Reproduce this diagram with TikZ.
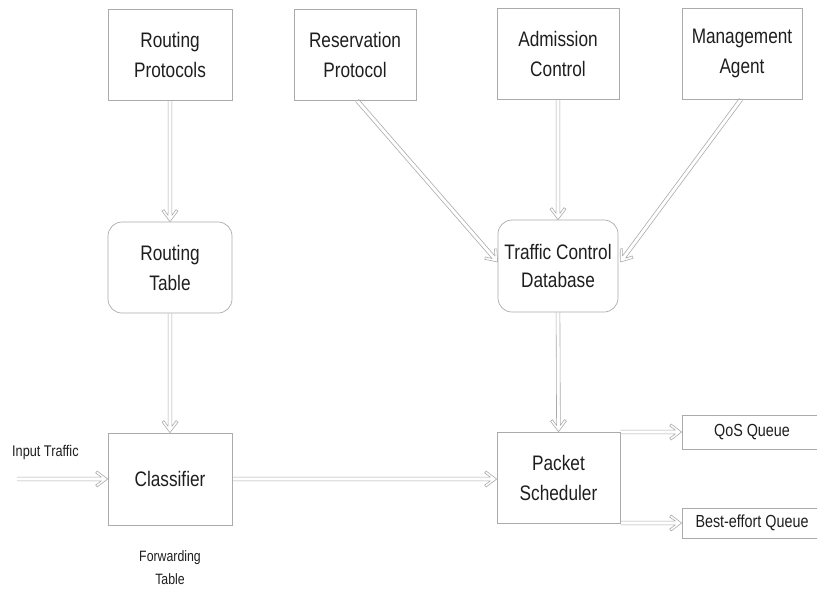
\documentclass[tikz,border=0pt]{standalone}
\usepackage{fontspec}
\setmainfont{Liberation Sans}[FakeStretch=0.82]
\usetikzlibrary{calc}

\definecolor{edge}{HTML}{ABABAB}
\definecolor{ink}{HTML}{1E1E1E}

\tikzset{
  box/.style={draw=edge, line width=0.7pt, inner sep=0pt, align=center,
    text=ink, font=\fontsize{21}{30}\selectfont},
  blockbox/.style={box},
  roundbox/.style={box, rounded corners=14pt},
  queuebox/.style={draw=edge, line width=0.7pt, inner sep=0pt, text=ink,
    font=\fontsize{17.5}{20}\selectfont},
  freelabel/.style={text=ink, font=\fontsize{15.5}{23}\selectfont,
    align=center, inner sep=0pt},
  arrowline/.style={draw=edge, line width=0.6pt, line join=round},
}

% Hollow double-line arrow (shaft of two lines, open chevron head)
\newcommand\hollowarrow[2]{%
  \path #1 coordinate (ha-a) #2 coordinate (ha-b);
  \pgfpointdiff{\pgfpointanchor{ha-a}{center}}{\pgfpointanchor{ha-b}{center}}%
  \pgfgetlastxy{\hadx}{\hady}%
  \pgfmathsetmacro\haAng{atan2(\hady,\hadx)}%
  \pgfmathsetmacro\haLen{veclen(\hadx,\hady)}%
  \begin{scope}[shift={(ha-a)}, rotate=\haAng, x=1pt, y=1pt]
    \draw[arrowline] (0,1.9) -- ({\haLen-6.2},1.9) -- ({\haLen-12},6)
      -- ({\haLen-10.5},8) -- (\haLen,0) -- ({\haLen-10.5},-8)
      -- ({\haLen-12},-6) -- ({\haLen-6.2},-1.9) -- (0,-1.9);
  \end{scope}}

\begin{document}
\begin{tikzpicture}[x=1pt, y=-1pt]
  \path[use as bounding box] (0,0) rectangle (817,590);
  \clip (0,0) rectangle (817,590);

  % top row
  \node[blockbox, minimum width=124pt, minimum height=91pt] (rp)   at (170,54.5) {Routing\\Protocols};
  \node[blockbox, minimum width=122pt, minimum height=91pt] (resp) at (355,54.5) {Reservation\\Protocol};
  \node[blockbox, minimum width=122pt, minimum height=91pt] (ac)   at (558,53.5) {Admission\\Control};
  \node[blockbox, minimum width=120pt, minimum height=91pt] (ma)   at (742,53.5) {Management\\Agent};

  % databases
  \node[roundbox, minimum width=124pt, minimum height=91pt] (rt)  at (170,267.5) {Routing\\Table};
  \node[roundbox, minimum width=120pt, minimum height=92pt, font=\fontsize{21}{28}\selectfont] (tcd) at (558,266) {Traffic Control\\Database};

  % data path
  \node[blockbox, minimum width=124pt, minimum height=92pt] (cl) at (170,479) {Classifier};
  \node[blockbox, minimum width=123pt, minimum height=91pt] (ps) at (558.5,477.5) {Packet\\Scheduler};
  \node[queuebox, minimum width=140pt, minimum height=34pt] (qos) at (752,432) {QoS Queue};
  \node[queuebox, minimum width=140pt, minimum height=30pt] (be)  at (752,523) {Best-effort Queue};

  % free labels
  \node[freelabel, anchor=west] (intxt) at (12,452) {Input Traffic};
  \node[freelabel, font=\fontsize{15}{23}\selectfont] (fwd) at (170,568) {Forwarding\\Table};
  \coordinate (insrc) at (17,479);

  % connectors
  \hollowarrow{(rp.south)}{(rt.north)}
  \hollowarrow{(rt.south)}{(cl.north)}
  \hollowarrow{($(resp.south)+(2,0)$)}{($(tcd.west)+(0,-4)$)}
  \hollowarrow{(ac.south)}{(tcd.north)}
  \hollowarrow{($(ma.south)+(-1,0)$)}{($(tcd.east)+(2,-4)$)}
  \hollowarrow{(tcd.south)}{(ps.north)}
  \hollowarrow{(insrc)}{(insrc -| cl.west)}
  \hollowarrow{(cl.east)}{(cl.east -| ps.west)}
  \hollowarrow{(ps.north east |- qos.west)}{(qos.west)}
  \hollowarrow{(ps.south east |- be.west)}{(be.west)}
\end{tikzpicture}
\end{document}
